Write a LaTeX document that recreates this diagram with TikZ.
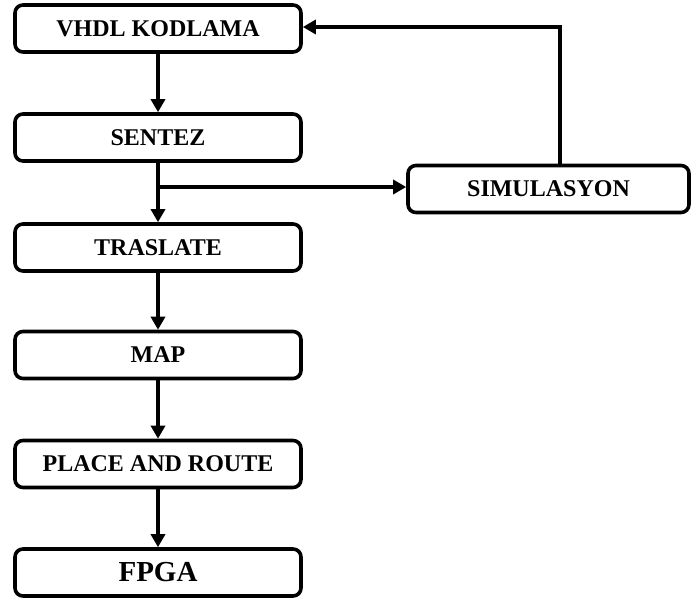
\documentclass[tikz,border=0pt]{standalone}
\usepackage{fontspec}
\setmainfont{Liberation Serif}
\usetikzlibrary{arrows.meta}
\begin{document}
\begin{tikzpicture}[x=1pt,y=-1pt,
  stage/.style={draw=black, line width=3.6pt, rounded corners=8pt,
    minimum width=286pt, minimum height=47pt, inner sep=0pt,
    font=\fontsize{24}{27}\selectfont\bfseries},
  flow/.style={line width=3.6pt, -{Triangle[length=13pt,width=14pt]}}]
  \useasboundingbox (0,0) rectangle (691,605);
  % main design flow
  \node[stage] (vhdl) at (158,28.5) {VHDL KODLAMA};
  \node[stage] (sentez) at (158,137.5) {SENTEZ};
  \node[stage] (trans) at (158,247.5) {TRASLATE};
  \node[stage] (map) at (158,355) {MAP};
  \node[stage] (par) at (158,464) {PLACE AND ROUTE};
  \node[stage, font=\fontsize{29}{32}\selectfont\bfseries] (fpga) at (158,572.5) {FPGA};
  % simulation side branch
  \node[stage, minimum width=281pt] (sim) at (548.5,189) {SIMULASYON};
  \coordinate (split) at (sentez.south |- 0,187);
  \coordinate (up) at (560,27);
  \draw[flow] (vhdl) -- (sentez);
  \draw[flow] (sentez) -- (trans);
  \draw[flow] (trans) -- (map);
  \draw[flow] (map) -- (par);
  \draw[flow] (par) -- (fpga);
  \draw[flow] (split) -- (split -| sim.west);
  \draw[flow] (sim.north -| up) -- (up) -- (vhdl.east |- up);
\end{tikzpicture}
\end{document}
